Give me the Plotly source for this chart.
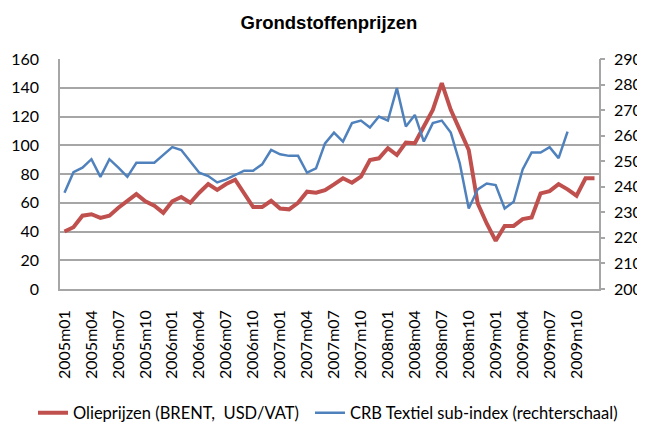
import plotly.graph_objects as go

months = [f"{y}m{m:02d}" for y in range(2005, 2010) for m in range(1, 13)]

olie = [40, 43, 51, 52, 49.5, 51, 56.5, 61, 66, 61, 58, 53, 61, 64, 60, 67, 73, 69, 73, 76,
        66.5, 57, 57, 61.4, 56, 55.4, 60, 67.7, 67, 68.8, 72.8, 77, 73.9, 78.1, 89.7, 90.9,
        97.9, 93.2, 101.8, 101.4, 113, 124.6, 143.2, 124.6, 110.7, 96.7, 59.5, 45.6, 33.5, 43.9,
        43.9, 48.6, 49.8, 66.5, 68.1, 73, 69.3, 64.9, 77, 77]

crb = [237.7, 245.7, 247.5, 250.8, 243.9, 250.8, 247.5, 243.9, 249.4, 249.4, 249.4, 252.5,
       255.5, 254.4, 249.8, 245.5, 244.2, 241.7, 242.9, 244.5, 246.3, 246.3, 248.8, 254.4,
       252.7, 252.1, 252.1, 245.5, 247.2, 257, 261.2, 257.7, 264.9, 265.9, 263.2, 267.5,
       265.9, 278.6, 263.6, 268.1, 257.7, 264.9, 265.9, 261.2, 249.2, 231.5, 239, 241.3,
       240.7, 231.5, 234.1, 246.8, 253.4, 253.4, 255.5, 251.2, 261.6]

tick_idx = list(range(0, 60, 3))
tick_text = [months[i] for i in tick_idx]

name_olie = "Olieprijzen (BRENT,\u00a0 USD/VAT)"
name_crb = "CRB Textiel sub-index (rechterschaal)"

FONT = "Lato, Carlito, Calibri, Liberation Sans, sans-serif"
GRID = "#a6a6a6"
CLEAR = "rgba(255,255,255,0)"

W, H = 637, 417  # page body has an 8px margin

fig = go.Figure()
fig.add_trace(go.Scatter(x=list(range(len(olie))), y=olie, mode="lines", name=name_olie,
                         line=dict(color="#C0504D", width=4), yaxis="y", legend="legend"))
fig.add_trace(go.Scatter(x=list(range(len(crb))), y=crb, mode="lines", name=name_crb,
                         line=dict(color="#4F81BD", width=2.5), yaxis="y2", legend="legend2"))

leg_common = dict(orientation="h", xref="container", yref="container", xanchor="left",
                  yanchor="middle", y=1 - 405 / H, font=dict(size=16.5),
                  bgcolor="rgba(0,0,0,0)")

fig.update_layout(
    width=W, height=H,
    margin=dict(l=52, r=46, t=51, b=136, autoexpand=False),
    paper_bgcolor="white", plot_bgcolor="white",
    font=dict(family=FONT, size=16, color="black"),
    title=dict(text="<b>Grondstoffenprijzen</b>", x=321 / W, xanchor="center",
               y=1 - 15 / H, yanchor="middle",
               font=dict(family="Liberation Sans, Arial, sans-serif", size=18.5)),
    xaxis=dict(range=[-0.5, 59.5], tickmode="array", tickvals=tick_idx, ticktext=tick_text,
               tickangle=-90, showgrid=False, showline=True, linecolor=GRID, linewidth=1.5,
               ticks="outside", ticklen=13, tickcolor=CLEAR, zeroline=False,
               tickfont=dict(size=16)),
    yaxis=dict(range=[0, 160], dtick=20, showgrid=True, gridcolor=GRID, gridwidth=1.5,
               showline=True, linecolor=GRID, linewidth=1.5, ticks="outside", ticklen=16,
               tickcolor=CLEAR, zeroline=False),
    yaxis2=dict(range=[200, 290], dtick=10, overlaying="y", side="right", showgrid=False,
                showline=True, linecolor=GRID, linewidth=1.5, ticks="outside", ticklen=10,
                tickcolor=CLEAR, zeroline=False),
    yaxis3=dict(range=[200, 290], dtick=10, overlaying="y", side="right", anchor="x",
                showgrid=False, showline=False, ticks="outside", ticklen=5, tickwidth=1.5,
                tickcolor=GRID, showticklabels=False, zeroline=False),
    legend=dict(leg_common, x=25 / W),
    legend2=dict(leg_common, x=302 / W),
    showlegend=True,
)

# invisible helper so yaxis3 gets drawn
fig.add_trace(go.Scatter(x=[None], y=[None], yaxis="y3", showlegend=False, hoverinfo="skip"))

fig.write_html("out.html")
